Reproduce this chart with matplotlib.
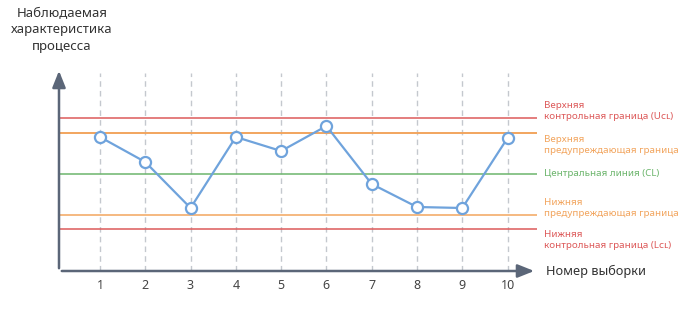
import numpy as np
import matplotlib.pyplot as plt

plt.rcParams['font.family'] = ['Noto Sans', 'DejaVu Sans']

# DATA
samples = [1, 2, 3, 4, 5, 6, 7, 8, 9, 10]
values = [13.4, 10.9, 6.3, 13.4, 12.0, 14.5, 8.7, 6.4, 6.3, 13.3]
ucl, uwl, cl, lwl, lcl = 15.3, 13.8, 9.7, 5.6, 4.2

# COLORS
red = '#dd5a5a'
orange = '#f2a55e'
green = '#6cb56c'
blue = '#6fa3dc'
axis_c = '#5b6678'

fig = plt.figure(figsize=(7, 3.09), dpi=100)
ax = fig.add_axes([59 / 700, 38 / 309, 478 / 700, 203 / 309])
ax.set_xlim(0.095, 10.65)
ax.set_ylim(0, 20.3)
for s in ax.spines.values():
    s.set_visible(False)
ax.set_yticks([])
ax.set_xticks(samples)
ax.set_xticklabels([str(s) for s in samples], fontsize=9, color='#444444')
ax.tick_params(axis='x', length=0, pad=6)

# vertical dashed grid
for s in samples:
    ax.plot([s, s], [0, 19.8], color='#c4c8ce', lw=1, ls=(0, (4, 3)), zorder=1)

# control lines
ax.axhline(ucl, color=red, lw=1.1, zorder=2)
ax.axhline(uwl, color=orange, lw=1.4, zorder=2)
ax.axhline(cl, color=green, lw=1.1, zorder=2)
ax.axhline(lwl, color=orange, lw=1.1, zorder=2)
ax.axhline(lcl, color=red, lw=1.1, zorder=2)

# data
ax.plot(samples, values, color=blue, lw=1.6, marker='o', markersize=8,
        markerfacecolor='white', markeredgecolor=blue, markeredgewidth=1.6, zorder=4)

# axes with arrows
ax.annotate('', xy=(0, 1.0), xytext=(0, 0), xycoords='axes fraction',
            arrowprops=dict(arrowstyle='-|>,head_length=1.0,head_width=0.4', color=axis_c, lw=1.8),
            annotation_clip=False)
ax.annotate('', xy=(1.0, 0), xytext=(0, 0), xycoords='axes fraction',
            arrowprops=dict(arrowstyle='-|>,head_length=1.0,head_width=0.4', color=axis_c, lw=1.8),
            annotation_clip=False)

# labels
fig.text(62 / 700, 1 - 30 / 309, 'Наблюдаемая\nхарактеристика\nпроцесса', ha='center', va='center',
         fontsize=9.5, color='#333333', linespacing=1.35)
fig.text(546 / 700, 1 - 271 / 309, 'Номер выборки', ha='left', va='center', fontsize=9.2, color='#333333')

tx = 544 / 700
fs = 7.0
fig.text(tx, 1 - 111 / 309, 'Верхняя\nконтрольная граница (Uᴄʟ)', ha='left', va='center',
         fontsize=fs, color=red, linespacing=1.4)
fig.text(tx, 1 - 145 / 309, 'Верхняя\nпредупреждающая граница', ha='left', va='center',
         fontsize=fs, color=orange, linespacing=1.4)
fig.text(tx, 1 - 173 / 309, 'Центральная линия (CL)', ha='left', va='center',
         fontsize=fs, color=green)
fig.text(tx, 1 - 208 / 309, 'Нижняя\nпредупреждающая граница', ha='left', va='center',
         fontsize=fs, color=orange, linespacing=1.4)
fig.text(tx, 1 - 240 / 309, 'Нижняя\nконтрольная граница (Lᴄʟ)', ha='left', va='center',
         fontsize=fs, color=red, linespacing=1.4)

fig.savefig('out.png', dpi=100)
